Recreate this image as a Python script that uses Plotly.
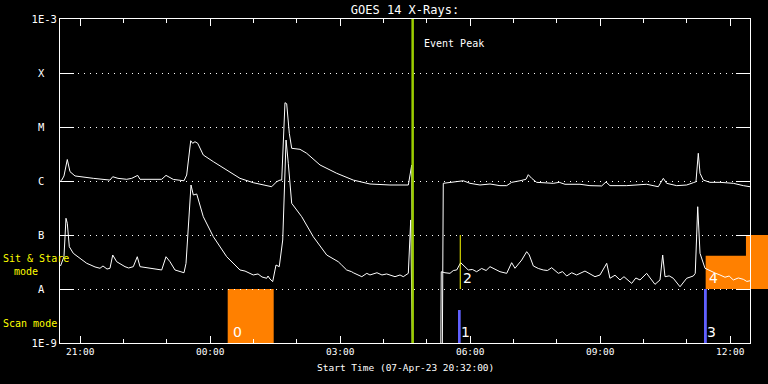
import math
import pandas as pd
import plotly.graph_objects as go

START = "2023-04-07 20:32:00"
END_MIN = 955.4  # minutes after start at the right edge of the plot

# GOES 14 long channel (1-8 A), minutes after start / flux W m^-2
long_min = [0.5, 2.4, 5.5, 10.1, 13.8, 20.8, 46.1, 69.2, 73.0, 80.3, 92.4, 99.3, 107.6, 110.8,
            140.8, 146.8, 156.9, 171.7, 175.4, 181.0, 183.7, 186.9, 190.7, 198.4, 212.3, 230.8,
            249.2, 267.6, 293.1, 300.0, 304.6, 307.0, 311.5, 313.9, 317.5, 320.8, 332.3, 341.6,
            360.0, 383.1, 406.1, 429.2, 456.9, 482.3, 487.0, 488.8, 529.0, 530.7, 540.0, 553.8,
            558.4, 567.7, 581.5, 595.4, 609.2, 618.5, 625.4, 636.9, 645.2, 648.4, 653.1, 660.0,
            683.0, 691.3, 699.2, 720.0, 733.8, 750.0, 756.0, 761.5, 784.6, 812.3, 828.4, 835.4,
            840.0, 853.9, 867.7, 876.9, 880.6, 883.8, 886.2, 890.7, 900.0, 913.8, 932.3, 946.2,
            955.4]
long_flux = [1.0e-6, 1.04e-6, 1.24e-6, 2.5e-6, 1.49e-6, 1.24e-6, 1.12e-6, 1.04e-6, 1.2e-6, 1.12e-6,
             1.075e-6, 1.12e-6, 1.27e-6, 1.075e-6, 1.075e-6, 1.27e-6, 1.07e-6, 1.01e-6, 1.29e-6,
             5.57e-6, 4.99e-6, 5.34e-6, 4.99e-6, 3.03e-6, 2.28e-6, 1.6e-6, 1.12e-6, 0.93e-6,
             0.784e-6, 0.97e-6, 1.04e-6, 1.04e-6, 2.82e-5, 2.7e-5, 7.64e-6, 4.03e-6, 3.86e-6,
             3.26e-6, 1.98e-6, 1.39e-6, 1.04e-6, 0.88e-6, 0.843e-6, 0.843e-6, 1.98e-6, 1e-10, 1e-10,
             0.906e-6, 0.93e-6, 0.97e-6, 1.01e-6, 0.906e-6, 0.843e-6, 0.88e-6, 0.82e-6, 0.82e-6,
             0.945e-6, 1.01e-6, 1.075e-6, 1.31e-6, 1.12e-6, 0.945e-6, 0.906e-6, 0.945e-6, 0.87e-6,
             0.87e-6, 0.82e-6, 0.81e-6, 0.96e-6, 0.82e-6, 0.82e-6, 0.87e-6, 0.784e-6, 1.12e-6,
             0.906e-6, 0.82e-6, 0.843e-6, 0.93e-6, 0.97e-6, 3.26e-6, 1.39e-6, 1.04e-6, 0.945e-6,
             0.945e-6, 0.906e-6, 0.82e-6, 0.784e-6]

# GOES 14 short channel (0.5-4 A)
short_min = [0.7, 5.5, 8.3, 10.1, 12.9, 18.4, 27.7, 37.0, 41.5, 48.5, 55.4, 59.5, 65.1, 69.2, 73.0,
             78.5, 90.0, 95.0, 101.5, 107.0, 110.8, 124.6, 140.8, 146.8, 152.3, 159.2, 171.7, 174.5,
             181.4, 184.6, 189.3, 198.4, 212.3, 230.8, 249.2, 256.2, 263.1, 267.6, 274.2, 279.7,
             286.2, 288.0, 290.8, 294.5, 299.1, 303.6, 308.4, 313.0, 316.1, 320.8, 334.7, 350.7,
             369.3, 385.3, 390.0, 396.9, 403.8, 406.1, 417.9, 424.8, 429.2, 438.9, 445.8, 452.3,
             463.9, 470.8, 475.3, 482.3, 485.6, 488.8, 526.8, 527.9, 533.0, 540.0, 544.6, 549.3,
             554.8, 558.4, 565.3, 571.0, 576.9, 583.8, 590.0, 595.4, 602.3, 609.2, 618.5, 625.4,
             630.0, 639.3, 646.2, 649.8, 655.4, 662.3, 669.2, 675.0, 680.8, 690.0, 695.8, 701.6,
             708.5, 715.4, 726.9, 733.8, 740.8, 747.7, 757.0, 761.5, 768.5, 775.4, 780.9, 791.6,
             797.3, 803.1, 812.3, 823.8, 830.8, 834.5, 837.7, 843.5, 849.2, 858.5, 867.7, 876.9,
             879.6, 883.0, 886.2, 893.1, 902.3, 908.0, 913.8, 920.8, 926.5, 932.3, 939.2, 946.2,
             951.0, 955.4]
short_flux = [2.67e-8, 3.96e-8, 2.04e-7, 1.65e-7, 6.07e-8, 4.58e-8, 3.7e-8, 2.99e-8, 2.82e-8, 2.56e-8,
              2.42e-8, 2.67e-8, 2.34e-8, 2.42e-8, 4.26e-8, 3.2e-8, 2.59e-8, 2.45e-8, 2.59e-8,
              3.96e-8, 2.59e-8, 2.42e-8, 2.25e-8, 3.96e-8, 3.2e-8, 2.25e-8, 2.0e-8, 2.99e-8, 8.43e-7,
              5.5e-7, 5.75e-7, 2.18e-7, 9.3e-8, 3.96e-8, 2.25e-8, 2.15e-8, 1.98e-8, 1.82e-8, 1.9e-8,
              1.67e-8, 1.58e-8, 1.74e-8, 1.53e-8, 1.37e-8, 2.78e-8, 2.59e-8, 8.08e-8, 5.74e-6,
              2.13e-6, 3.86e-7, 2.18e-7, 9.3e-8, 4.26e-8, 3.2e-8, 2.78e-8, 2.25e-8, 2.09e-8, 2.0e-8,
              1.69e-8, 1.95e-8, 1.82e-8, 2.0e-8, 1.82e-8, 1.9e-8, 1.69e-8, 1.82e-8, 1.69e-8, 1.95e-8,
              1.9e-7, 1e-10, 1e-10, 2.09e-8, 2.0e-8, 1.95e-8, 2.2e-8, 2.25e-8, 3.07e-8, 2.78e-8,
              2.25e-8, 2.3e-8, 2.09e-8, 2.4e-8, 2.2e-8, 2.59e-8, 2.3e-8, 2.09e-8, 1.95e-8, 3.07e-8,
              2.42e-8, 3.44e-8, 4.91e-8, 4.26e-8, 2.67e-8, 2.4e-8, 2.25e-8, 2.2e-8, 2.48e-8, 1.95e-8,
              2.1e-8, 1.74e-8, 2.0e-8, 1.82e-8, 2.15e-8, 1.9e-8, 1.69e-8, 1.82e-8, 2.99e-8, 1.58e-8,
              1.8e-8, 1.47e-8, 1.69e-8, 1.27e-8, 1.6e-8, 1.47e-8, 1.95e-8, 1.22e-8, 1.47e-8, 4.26e-8,
              1.69e-8, 1.75e-8, 1.58e-8, 1.1e-8, 1.58e-8, 1.74e-8, 1.95e-8, 3.34e-7, 4.58e-8,
              2.42e-8, 2.09e-8, 1.95e-8, 1.82e-8, 1.65e-8, 1.74e-8, 1.47e-8, 1.6e-8, 1.51e-8, 1.38e-8,
              1.42e-8]

# y axis labels (GOES classes)
y_tickvals = [1e-9, 1e-8, 1e-7, 1e-6, 1e-5, 1e-4, 1e-3]
y_ticktext = ["1E-9", "A\u00a0\u00a0", "B\u00a0\u00a0", "C\u00a0\u00a0", "M\u00a0\u00a0",
              "X\u00a0\u00a0", "1E-3"]

# events
event_peak_min = 488.3
# orange blocks: start, end (None = beyond plot), low, high
orange_start = [232.2, 894.0, 949.8]
orange_end = [295.9, None, None]
orange_low = [1e-9, 1e-8, 1e-8]
orange_high = [1e-8, 4.14e-8, 1e-7]
blue_start = [551.1, 891.7]
blue_end = [554.8, 895.6]
blue_high = [4.08e-9, 1e-8]
yellow_min = [554.2]
event_labels = ["0", "1", "2", "3", "4"]
event_label_min = [232.2, 551.1, 554.2, 891.7, 894.0]
event_label_y = [1e-9, 1e-9, 1e-8, 1e-9, 1e-8]

t0 = pd.Timestamp(START)


def to_t(m):
    return t0 + pd.to_timedelta(m, unit="min")


def to_paper(m):
    return m / END_MIN


WHITE = "#ffffff"
MONO = "DejaVu Sans Mono"

fig = go.Figure()
fig.add_trace(go.Scatter(x=[to_t(m) for m in long_min], y=long_flux, mode="lines",
                         line=dict(color=WHITE, width=1), hoverinfo="skip"))
fig.add_trace(go.Scatter(x=[to_t(m) for m in short_min], y=short_flux, mode="lines",
                         line=dict(color=WHITE, width=1), hoverinfo="skip"))

shapes = []
ORANGE = "rgb(255,128,0)"
for s, e, lo, hi in zip(orange_start, orange_end, orange_low, orange_high):
    shapes.append(dict(type="rect", xref="paper", yref="y", x0=to_paper(s),
                       x1=(to_paper(e) if e is not None else 1.05), y0=lo, y1=hi,
                       fillcolor=ORANGE, line=dict(width=0), layer="below"))
BLUE = "rgb(96,96,255)"
for s, e, hi in zip(blue_start, blue_end, blue_high):
    shapes.append(dict(type="rect", xref="x", yref="y", x0=to_t(s), x1=to_t(e), y0=1e-9, y1=hi,
                       fillcolor=BLUE, line=dict(width=0), layer="above"))
for m in yellow_min:
    shapes.append(dict(type="line", xref="x", yref="y", x0=to_t(m), x1=to_t(m), y0=1e-8, y1=1e-7,
                       line=dict(color="rgb(255,255,0)", width=1), layer="above"))
shapes.append(dict(type="line", xref="x", yref="paper", x0=to_t(event_peak_min),
                   x1=to_t(event_peak_min), y0=0, y1=1,
                   line=dict(color="rgb(155,205,0)", width=2.5), layer="above"))

annotations = []
for lab, m, yv in zip(event_labels, event_label_min, event_label_y):
    annotations.append(dict(x=to_t(m), y=math.log10(yv), xref="x", yref="y", text=lab,
                            showarrow=False, xanchor="left", yanchor="bottom",
                            xshift=1 if lab != "0" else 3, yshift=1,
                            font=dict(family="DejaVu Sans", size=14, color=WHITE)))
annotations.append(dict(x=to_t(event_peak_min), y=1 - 24 / 324, xref="x", yref="paper",
                        text="Event Peak", showarrow=False, xanchor="left", yanchor="middle",
                        xshift=9, font=dict(family=MONO, size=10, color=WHITE)))
annotations.append(dict(x=0.5, y=-25 / 324, xref="paper", yref="paper",
                        text="Start Time (07-Apr-23 20:32:00)", showarrow=False,
                        xanchor="center", yanchor="middle",
                        font=dict(family=MONO, size=9.5, color=WHITE)))
YEL = "rgb(255,255,0)"
annotations.append(dict(x=0, y=-7.444, xref="paper", yref="y", text="Sit & Stare",
                        showarrow=False, xanchor="left", yanchor="middle", xshift=-59,
                        font=dict(family=MONO, size=10, color=YEL)))
annotations.append(dict(x=0, y=-7.667, xref="paper", yref="y", text="mode",
                        showarrow=False, xanchor="left", yanchor="middle", xshift=-48,
                        font=dict(family=MONO, size=10, color=YEL)))
annotations.append(dict(x=0, y=-8.648, xref="paper", yref="y", text="Scan mode",
                        showarrow=False, xanchor="left", yanchor="middle", xshift=-59,
                        font=dict(family=MONO, size=10, color=YEL)))

fig.update_layout(
    width=768, height=384,
    margin=dict(l=60, r=18, t=19, b=41),
    paper_bgcolor="black", plot_bgcolor="black",
    showlegend=False,
    title=dict(text="GOES 14 X-Rays:", x=405 / 768, xanchor="center", xref="container",
               y=1 - 9.5 / 384, yanchor="middle", yref="container",
               font=dict(family=MONO, size=12, color=WHITE)),
    shapes=shapes, annotations=annotations,
    xaxis=dict(type="date", range=[to_t(0), to_t(END_MIN)], tick0=to_t(28), dtick=3 * 3600000,
               tickformat="%H:%M", ticks="inside", ticklen=7, tickcolor=WHITE, tickwidth=1,
               minor=dict(dtick=3600000, tick0=to_t(28), ticks="inside", ticklen=4,
                          tickcolor=WHITE, showgrid=False),
               showline=True, linecolor=WHITE, linewidth=1, mirror="ticks",
               showgrid=False, zeroline=False,
               tickfont=dict(family=MONO, size=9.5, color=WHITE), automargin=False),
    yaxis=dict(type="log", range=[-9, -3], tickvals=y_tickvals, ticktext=y_ticktext,
               ticks="inside", ticklen=14, tickcolor=WHITE, tickwidth=1,
               showline=True, linecolor=WHITE, linewidth=1, mirror="ticks",
               showgrid=True, gridcolor=WHITE, gridwidth=1, griddash="1px,5px",
               zeroline=False, tickfont=dict(family=MONO, size=10.5, color=WHITE),
               automargin=False),
)

fig.write_html("out.html", config={"displayModeBar": False},
               post_script="document.body.style.margin='0';document.body.style.background='black';")
